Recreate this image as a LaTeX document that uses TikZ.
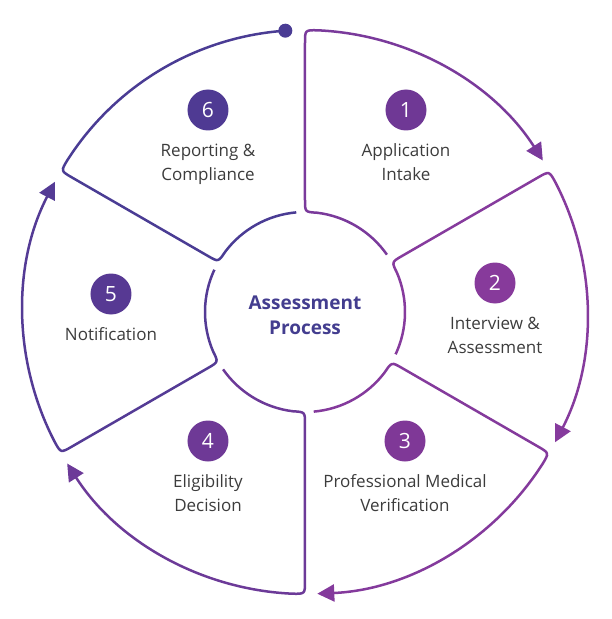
\documentclass[tikz,border=0pt]{standalone}
\usepackage{fontspec}
\setmainfont{Open Sans}
\usepackage{tikz}
\usetikzlibrary{arrows.meta}
\usetikzlibrary{positioning}
\definecolor{segA}{HTML}{7A3A9B}
\definecolor{segB}{HTML}{863B9D}
\definecolor{segC}{HTML}{843A9C}
\definecolor{segD}{HTML}{6C3A98}
\definecolor{segE}{HTML}{543B95}
\definecolor{segF}{HTML}{4A3C94}
\definecolor{badgeA}{HTML}{6F3895}
\definecolor{badgeB}{HTML}{873A9B}
\definecolor{badgeC}{HTML}{7F3897}
\definecolor{badgeD}{HTML}{6E3996}
\definecolor{badgeE}{HTML}{573993}
\definecolor{badgeF}{HTML}{4F3A93}
\definecolor{textgray}{HTML}{3C3C3C}
\definecolor{titleblue}{HTML}{433D8F}
\tikzstyle{every node}+=[inner sep=0pt]
\tikzstyle{seg} = [line width=2.5pt, -{Triangle[length=17pt, width=17pt]}]
\tikzstyle{badge} = [circle, minimum size=41pt, text=white, font=\fontsize{21}{21}\selectfont]
\tikzstyle{stage} = [align=center, text=textgray, font=\fontsize{17}{24}\selectfont, node distance=13pt]
\tikzstyle{title} = [align=center, text=titleblue, font=\bfseries\fontsize{19}{25}\selectfont]

\begin{document}
\begin{tikzpicture}[x=1pt, y=1pt]
            \useasboundingbox (-305,-307) rectangle (307,312);
            % Place nodes
            \node [title] (ttl) at (0,-3) {Assessment\\Process};
            \node [badge, fill=badgeA] (n1) at (101,202) {1};
            \node [stage, below=of n1] (s1) {Application\\Intake};
            \node [badge, fill=badgeB] (n2) at (190,29) {2};
            \node [stage, below=of n2] (s2) {Interview \&\\Assessment};
            \node [badge, fill=badgeC] (n3) at (100,-129) {3};
            \node [stage, below=of n3] (s3) {Professional Medical\\Verification};
            \node [badge, fill=badgeD] (n4) at (-97,-129) {4};
            \node [stage, below=of n4] (s4) {Eligibility\\Decision};
            \node [badge, fill=badgeE] (n5) at (-194,18) {5};
            \node [stage, below=of n5] (s5) {Notification};
            \node [badge, fill=badgeF] (n6) at (-97,202) {6};
            \node [stage, below=of n6] (s6) {Reporting \&\\Compliance};
            \node [circle, fill=segF, minimum size=14pt] (dot) at (94:282pt) {};
            % Draw segments
            \draw [seg, segA] (35:100pt) arc [start angle=35, end angle=83.1, radius=100pt] .. controls (90:100pt) .. (90:112pt) -- (90:269pt) .. controls (90:282pt) .. (87.4:282pt) arc [start angle=87.4, end angle=32.5, radius=282pt];
            \draw [seg, segB] (-25:100pt) arc [start angle=-25, end angle=23.1, radius=100pt] .. controls (30:100pt) .. (30:112pt) -- (30:269pt) .. controls (30:282pt) .. (27.4:282pt) arc [start angle=27.4, end angle=-27.5, radius=282pt];
            \draw [seg, segC] (-85:100pt) arc [start angle=-85, end angle=-36.9, radius=100pt] .. controls (-30:100pt) .. (-30:112pt) -- (-30:269pt) .. controls (-30:282pt) .. (-32.6:282pt) arc [start angle=-32.6, end angle=-87.5, radius=282pt];
            \draw [seg, segD] (-145:100pt) arc [start angle=-145, end angle=-96.9, radius=100pt] .. controls (-90:100pt) .. (-90:112pt) -- (-90:269pt) .. controls (-90:282pt) .. (-92.6:282pt) arc [start angle=-92.6, end angle=-147.5, radius=282pt];
            \draw [seg, segE] (155:100pt) arc [start angle=155, end angle=203.1, radius=100pt] .. controls (210:100pt) .. (210:112pt) -- (210:269pt) .. controls (210:282pt) .. (207.4:282pt) arc [start angle=207.4, end angle=152.5, radius=282pt];
            \draw [seg, -, segF] (95:100pt) arc [start angle=95, end angle=143.1, radius=100pt] .. controls (150:100pt) .. (150:112pt) -- (150:269pt) .. controls (150:282pt) .. (147.4:282pt) arc [start angle=147.4, end angle=94, radius=282pt];
          \end{tikzpicture}
\end{document}
